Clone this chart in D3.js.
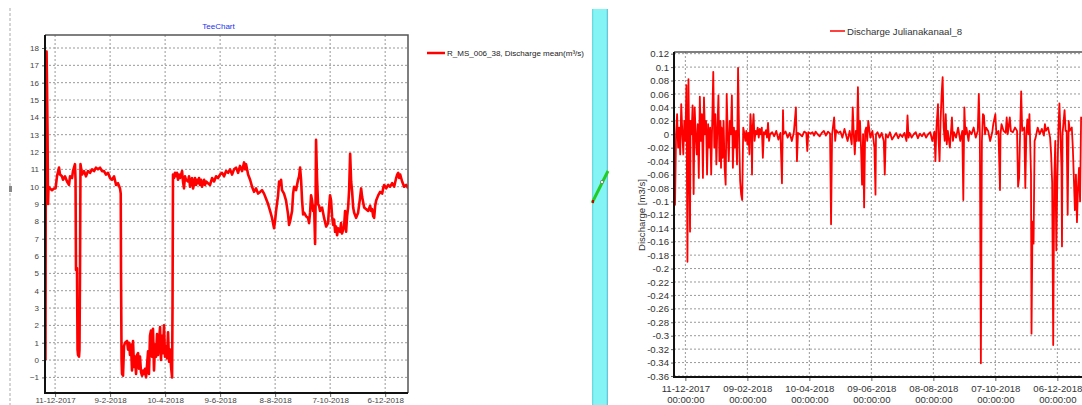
<!DOCTYPE html>
<html>
<head>
<meta charset="utf-8">
<script src="https://cdn.jsdelivr.net/npm/d3@7"></script>
<style>
  body { margin: 0; background: #fff; }
  svg { display: block; font-family: "Liberation Sans", Arial, sans-serif; }
</style>
</head>
<body>
<svg id="chart" width="1082" height="405"></svg>
<script>
// both series start 30-11-2017, day offsets from there
const startDate = new Date(Date.UTC(2017, 10, 30));
const endDate = new Date(Date.UTC(2019, 0, 1));

const leftTitle = "TeeChart";
const leftLegend = "R_MS_006_38, Discharge mean(m³/s)";
const rightLegend = "Discharge Julianakanaal_8";
const rightAxisTitle = "Discharge [m3/s]";

const xTickDates = ["2017-12-11", "2018-02-09", "2018-04-10", "2018-06-09", "2018-08-08", "2018-10-07", "2018-12-06"];
const leftYTicks = [-1, 0, 1, 2, 3, 4, 5, 6, 7, 8, 9, 10, 11, 12, 13, 14, 15, 16, 17, 18];
const rightYTicks = [0.12, 0.1, 0.08, 0.06, 0.04, 0.02, 0, -0.02, -0.04, -0.06, -0.08, -0.1, -0.12, -0.14, -0.16,
  -0.18, -0.2, -0.22, -0.24, -0.26, -0.28, -0.3, -0.32, -0.34, -0.36];

// [day offset, m3/s]
const leftSeries = [
  [0.5, 0], [1.1, 17.8], [1.7, 17.8], [2.2, 15.8], [2.8, 12.9], [3.3, 9.0], [3.8, 10.0], [5.5, 9.9], [7.6, 9.8], [9.8, 9.9],
  [11.5, 9.9], [13.1, 10.6], [15.3, 11.1], [16.4, 10.7], [18.5, 10.6], [19.6, 10.4], [21.8, 10.6], [24.0, 10.3], [26.2, 10.1], [27.3, 10.6],
  [29.5, 10.5], [30.5, 10.9], [32.7, 11.3], [33.3, 10.4], [33.8, 5.2], [34.9, 5.3], [35.5, 0.6], [36.0, 0.3], [37.1, 0.2], [37.6, 0.6],
  [38.2, 5.2], [38.7, 11.3], [40.4, 10.7], [42.5, 10.9], [44.7, 10.6], [46.9, 10.9], [49.1, 10.8], [51.3, 11.0], [53.5, 10.9], [55.6, 11.1],
  [57.8, 11.0], [60.0, 11.1], [62.2, 10.9], [64.4, 10.9], [66.5, 10.7], [68.7, 10.8], [70.9, 10.5], [73.1, 10.4], [75.3, 10.6], [77.5, 10.1],
  [79.6, 10.2], [81.8, 9.9], [82.6, 9.6], [82.9, 5.2], [83.5, 0.0], [84.0, -0.8], [85.1, -0.9], [86.2, 0.8], [87.3, 1.0], [89.5, 1.1],
  [90.6, 0.6], [91.6, 1.0], [92.7, 0.3], [93.8, 0.9], [94.9, -0.6], [96.0, 1.1], [97.1, -0.4], [98.2, 0.2], [99.3, -0.8], [100.4, 0.3],
  [101.5, 0.4], [102.5, -0.5], [103.6, 0.2], [104.7, -0.7], [105.8, -0.9], [106.9, -0.6], [108.0, -0.8], [109.1, -0.5], [110.2, -1.0], [111.3, -0.3],
  [112.4, 0.5], [113.4, -0.8], [114.5, 1.4], [115.6, 1.7], [116.7, 0.2], [117.8, 1.8], [118.9, -0.6], [120.0, 0.9], [121.1, 0.2], [122.2, 1.5],
  [123.3, 0.3], [124.4, 1.1], [125.5, 1.9], [126.5, 0.0], [127.6, 1.4], [128.7, 0.4], [129.8, 2.0], [130.9, 0.2], [132.0, 0.8], [133.1, 0.1],
  [134.2, 1.6], [135.3, -0.1], [136.4, 0.6], [137.5, -0.4], [138.6, -1.0], [139.1, 3.2], [139.6, 10.7], [140.7, 10.5], [141.8, 10.8], [142.9, 10.6],
  [144.0, 10.8], [145.1, 10.4], [146.2, 10.7], [147.3, 10.5], [149.5, 10.9], [150.5, 10.3], [151.6, 9.9], [152.7, 10.6], [153.8, 10.4], [156.0, 10.3],
  [157.1, 10.6], [158.2, 10.0], [159.3, 10.4], [160.4, 10.5], [161.5, 9.9], [162.6, 10.2], [163.6, 10.5], [164.7, 10.1], [165.8, 10.4], [166.9, 10.2],
  [168.0, 10.5], [169.1, 10.1], [170.2, 10.4], [171.3, 10.0], [173.5, 10.4], [174.6, 10.1], [175.7, 10.3], [177.8, 10.2], [180.0, 10.1], [182.2, 10.5],
  [184.4, 10.3], [186.6, 10.6], [188.7, 10.5], [190.9, 10.7], [193.1, 10.8], [195.3, 10.6], [197.5, 10.9], [199.7, 10.8], [201.8, 11.0], [204.0, 10.7],
  [206.2, 11.0], [208.4, 11.1], [210.6, 10.8], [212.7, 11.2], [214.9, 10.9], [217.1, 11.4], [218.2, 11.0], [219.3, 11.3], [221.5, 10.7], [223.7, 10.4],
  [225.8, 10.0], [228.0, 9.7], [230.2, 9.9], [232.4, 9.6], [234.6, 9.7], [236.7, 9.8], [238.9, 9.6], [241.1, 9.3], [243.3, 9.0], [245.5, 8.6],
  [247.6, 8.2], [249.8, 7.6], [250.9, 8.0], [252.0, 8.6], [254.2, 9.5], [255.3, 10.3], [256.4, 10.1], [257.5, 10.4], [258.5, 9.8], [260.7, 9.6],
  [262.9, 9.2], [265.1, 8.4], [266.2, 7.8], [267.3, 8.0], [269.5, 8.6], [270.6, 9.6], [271.7, 10.0], [273.8, 9.8], [276.0, 10.4], [277.1, 10.6],
  [278.2, 11.1], [279.3, 10.4], [280.4, 9.2], [281.5, 8.4], [282.6, 8.5], [284.7, 8.3], [286.9, 8.2], [288.0, 7.9], [289.1, 8.5], [290.2, 9.5],
  [291.3, 9.2], [292.4, 8.6], [293.5, 8.9], [294.6, 6.7], [295.1, 9.0], [295.6, 12.7], [296.7, 10.5], [297.8, 9.0], [298.9, 8.9], [300.0, 8.6],
  [302.2, 8.8], [304.4, 8.2], [306.6, 7.7], [308.7, 7.9], [309.8, 8.8], [310.9, 9.5], [312.0, 9.2], [313.1, 8.3], [314.2, 7.8], [315.3, 8.1],
  [316.4, 7.4], [317.5, 7.7], [318.6, 7.2], [319.7, 7.6], [321.8, 7.4], [322.9, 7.9], [324.0, 7.3], [326.2, 7.7], [327.3, 8.6], [328.4, 7.4],
  [329.5, 8.3], [330.6, 8.8], [331.7, 9.8], [332.8, 11.9], [333.9, 10.3], [335.0, 9.7], [336.1, 8.8], [337.2, 8.5], [339.3, 8.2], [341.5, 8.5],
  [343.7, 9.4], [344.8, 9.9], [345.9, 9.4], [348.1, 8.8], [350.3, 8.7], [352.5, 8.6], [354.6, 8.9], [355.7, 8.6], [356.8, 8.7], [357.9, 8.3],
  [359.0, 8.2], [360.1, 8.9], [361.2, 9.2], [363.4, 9.5], [365.5, 9.7], [367.7, 9.6], [368.8, 9.9], [369.9, 10.1], [372.1, 9.9], [374.3, 10.1],
  [376.4, 10.0], [378.6, 10.2], [380.8, 10.0], [383.0, 10.5], [384.1, 10.7], [385.2, 10.8], [386.3, 10.5], [387.4, 10.7], [389.5, 10.3], [391.7, 10.0],
  [393.9, 10.1], [396.1, 9.9]
];

const rightSeries = [
  [0, -0.005], [1, -0.105], [2, 0.0], [3, 0.03], [4, -0.02], [5, 0.01], [6, -0.03], [7, 0.045], [8, 0.005], [9, -0.03],
  [10, 0.02], [11, -0.01], [12, 0.073], [13, -0.19], [14, 0.082], [14.5, 0.01], [15.5, -0.145], [16, 0.02], [17, 0.0], [18, 0.043],
  [19, -0.089], [20, 0.04], [21, 0.0], [22, -0.03], [23, 0.015], [24, -0.065], [25, 0.056], [26, -0.01], [27, 0.03], [28, -0.065],
  [29, 0.055], [30, 0.0], [31, 0.02], [32, -0.06], [33, 0.015], [34, -0.02], [35, 0.01], [36, -0.06], [37, 0.02], [38, 0.093],
  [39, -0.02], [40, 0.03], [41, -0.045], [42, 0.01], [43, 0.058], [44, -0.04], [45, 0.02], [45.5, -0.05], [46, 0.01], [47, -0.035],
  [48, 0.02], [49, -0.05], [50, -0.075], [51, 0.06], [52, 0.0], [53, -0.04], [54, 0.02], [55, 0.0], [56, 0.058], [57, -0.05],
  [58, 0.01], [59, -0.02], [60, 0.005], [61, -0.045], [62, 0.099], [63, 0.0], [64, -0.07], [65, -0.09], [66, -0.098], [67, 0.01],
  [68, 0.002], [69, -0.01], [70, 0.005], [71, -0.015], [72, 0.002], [73, -0.03], [74, 0.03], [75, 0.0], [75.5, -0.06], [76, 0.005],
  [77, 0.03], [78, -0.01], [79, 0.005], [80, 0.0], [81, 0.01], [82, -0.005], [83, 0.008], [84, 0.0], [85, 0.01], [86, -0.035],
  [87, 0.003], [88, 0.0], [89, 0.006], [90, -0.005], [91, 0.017], [92, -0.01], [93, 0.0], [95, 0.003], [97, -0.003], [99, 0.005],
  [101, -0.008], [103, 0.002], [104.5, -0.073], [105.5, 0.036], [106, 0.0], [108, 0.004], [110, -0.005], [112, 0.002], [114, -0.01], [116, 0.003],
  [118, 0.04], [119, -0.04], [120, 0.002], [122, 0.0], [124, -0.003], [126, 0.004], [128, 0.002], [129, -0.025], [130, 0.003], [132, 0.001],
  [134, 0.003], [135.5, -0.002], [137, 0.004], [139, 0.0], [141, -0.003], [143, 0.002], [145, 0.005], [147, -0.002], [149, 0.004], [151, 0.001],
  [152, -0.134], [153, 0.0], [155, 0.025], [156, -0.01], [157, 0.006], [159, 0.002], [161, 0.004], [163, -0.005], [165, 0.008], [166, 0.002],
  [168, -0.01], [170, 0.005], [172, -0.015], [173, 0.04], [174, 0.0], [175, -0.03], [176, 0.005], [177, -0.01], [178, 0.07], [179, -0.01],
  [180, 0.02], [181, -0.02], [182, -0.075], [183, 0.0], [184, -0.109], [185, 0.005], [186, 0.01], [187, -0.01], [188, 0.02], [190, -0.005],
  [192, 0.005], [194, -0.02], [195, -0.09], [195.5, 0.0], [197, 0.003], [199, -0.005], [201, 0.002], [203, -0.01], [204, -0.06], [205, 0.0],
  [207, -0.005], [209, 0.003], [211, -0.008], [213, -0.003], [215, 0.002], [217, -0.006], [219, 0.0], [221, -0.004], [223, 0.002], [225, -0.01],
  [226, 0.028], [227, -0.005], [228, 0.002], [230, -0.005], [232, 0.0], [234, 0.003], [236, -0.006], [238, 0.001], [240, -0.003], [242, 0.002],
  [244, -0.005], [246, 0.0], [248, 0.003], [250, -0.01], [252, 0.004], [253, -0.04], [254, 0.01], [255.5, 0.045], [256, -0.005], [257, -0.04],
  [258, 0.02], [259, 0.06], [260, 0.085], [261, 0.01], [262, -0.01], [263, 0.03], [264, -0.015], [265, 0.005], [267, -0.02], [269, 0.025],
  [270, -0.01], [271, 0.003], [273, -0.005], [275, 0.01], [277, -0.01], [279, 0.005], [280, -0.098], [281, 0.04], [282, 0.0], [283, 0.01],
  [285, -0.01], [286, 0.005], [288, 0.0], [290, 0.01], [292, -0.005], [294, 0.005], [295, 0.06], [296, 0.0], [297, -0.341], [298, -0.01],
  [299, 0.03], [300, 0.028], [301, 0.0], [302, 0.01], [304, 0.005], [306, -0.01], [308, 0.003], [309, 0.015], [311, 0.03], [312, 0.0],
  [314, 0.005], [315.5, -0.083], [316, 0.0], [317, 0.015], [319, 0.005], [321, 0.002], [322, 0.025], [323, 0.0], [325, 0.025], [326, 0.005],
  [328, 0.003], [330, 0.01], [332, 0.005], [333, -0.078], [334, -0.065], [335, 0.005], [336, 0.064], [337, 0.005], [339, 0.01], [340, -0.08],
  [341, 0.0], [342, 0.022], [343, 0.0], [344, 0.03], [345, -0.03], [345.5, -0.06], [346, -0.297], [347, -0.13], [348, -0.163], [349, -0.01],
  [350, -0.005], [352, 0.01], [354, 0.0], [356, 0.008], [358, -0.002], [359, 0.015], [360, 0.005], [362, 0.01], [364, -0.005], [365, -0.03],
  [366, -0.073], [367, -0.314], [368, -0.07], [369, -0.01], [370, -0.173], [371, -0.07], [372, 0.005], [373, 0.046], [374, 0.0], [375, -0.05],
  [375.5, -0.167], [376, 0.0], [378, 0.036], [379, 0.005], [380, 0.005], [381, -0.12], [382, 0.02], [383, 0.005], [385, 0.01], [386, -0.02],
  [388, -0.113], [389, -0.06], [390, -0.131], [391, -0.08], [392, -0.05], [393, -0.1], [394, 0.025], [395, 0.02]
];

const svg = d3.select("#chart");
const dayMs = 864e5;
const toDate = d => new Date(startDate.getTime() + d * dayMs);
const tickDates = xTickDates.map(s => new Date(s + "T00:00:00Z"));

svg.append("rect").attr("width", 1082).attr("height", 405).attr("fill", "#fff");

// splitter line on far left
svg.append("line")
  .attr("x1", 10).attr("x2", 10).attr("y1", 8).attr("y2", 405)
  .attr("stroke", "#aaa").attr("stroke-dasharray", "3,2");
svg.append("rect").attr("x", 9).attr("y", 186).attr("width", 3).attr("height", 6).attr("fill", "#888");

// ---------- left chart ----------
const L = { left: 45, right: 408, top: 35, bottom: 393 };
const lx = d3.scaleUtc().domain([startDate, endDate]).range([45, 409]);
const ly = d3.scaleLinear().domain([-1.9, 18.75]).range([L.bottom, L.top]);

const lg = svg.append("g");

lg.append("g").selectAll("line").data(leftYTicks).join("line")
  .attr("x1", L.left).attr("x2", L.right)
  .attr("y1", d => ly(d)).attr("y2", d => ly(d))
  .attr("stroke", "#999").attr("stroke-dasharray", "2,2");
lg.append("g").selectAll("line").data(tickDates).join("line")
  .attr("x1", d => lx(d)).attr("x2", d => lx(d))
  .attr("y1", L.top).attr("y2", L.bottom)
  .attr("stroke", "#999").attr("stroke-dasharray", "2,2");

lg.append("g")
  .attr("transform", `translate(${L.left},0)`)
  .call(d3.axisLeft(ly).tickValues(leftYTicks).tickSize(3).tickPadding(3).tickFormat(d3.format("d")))
  .call(g => g.select(".domain").remove())
  .call(g => g.selectAll("line").attr("stroke", "#666"))
  .call(g => g.selectAll("text").attr("font-size", 8).attr("fill", "#444").attr("font-family", null));

// labels sit right at the bottom edge of the window
lg.append("g")
  .attr("transform", `translate(0,${L.bottom})`)
  .call(d3.axisBottom(lx).tickValues(tickDates).tickSize(4).tickPadding(0.3).tickFormat(d3.utcFormat("%-d-%-m-%Y")))
  .call(g => g.select(".domain").remove())
  .call(g => g.selectAll("line").attr("stroke", "#666"))
  .call(g => g.selectAll("text").attr("font-size", 8).attr("fill", "#444").attr("font-family", null));

svg.append("clipPath").attr("id", "clipL").append("rect")
  .attr("x", L.left).attr("y", L.top).attr("width", L.right - L.left).attr("height", L.bottom - L.top);

lg.append("path")
  .datum(leftSeries)
  .attr("clip-path", "url(#clipL)")
  .attr("fill", "none")
  .attr("stroke", "#ff0000")
  .attr("stroke-width", 2.6)
  .attr("stroke-linejoin", "round")
  .attr("d", d3.line().x(d => lx(toDate(d[0]))).y(d => ly(d[1])));

// frame
lg.append("path")
  .attr("d", `M${L.left},${L.top}H${L.right}V${L.bottom}`)
  .attr("fill", "none").attr("stroke", "#555").attr("stroke-width", 1.5);
lg.append("path")
  .attr("d", `M${L.left},${L.top}V${L.bottom}H${L.right}`)
  .attr("fill", "none").attr("stroke", "#111").attr("stroke-width", 2);

lg.append("text")
  .attr("x", (L.left + L.right) / 2 - 8).attr("y", 29)
  .attr("text-anchor", "middle").attr("font-size", 8).attr("fill", "#2233ee")
  .text(leftTitle);

lg.append("line").attr("x1", 427).attr("x2", 445).attr("y1", 53).attr("y2", 53)
  .attr("stroke", "#ff0000").attr("stroke-width", 2.5);
lg.append("text").attr("x", 447).attr("y", 56).attr("font-size", 8).attr("fill", "#222")
  .text(leftLegend);

// ---------- splitter bar ----------
const grad = svg.append("defs").append("linearGradient").attr("id", "cyan");
grad.append("stop").attr("offset", "0%").attr("stop-color", "#5fd3dc");
grad.append("stop").attr("offset", "12%").attr("stop-color", "#84f4f4");
grad.append("stop").attr("offset", "88%").attr("stop-color", "#84f4f4");
grad.append("stop").attr("offset", "100%").attr("stop-color", "#5ab8d0");
svg.append("rect").attr("x", 592).attr("y", 9).attr("width", 16).attr("height", 396).attr("fill", "url(#cyan)");
svg.append("line").attr("x1", 592).attr("y1", 203).attr("x2", 608).attr("y2", 171)
  .attr("stroke", "#22cc22").attr("stroke-width", 3);
svg.append("circle").attr("cx", 602).attr("cy", 182).attr("r", 1.6)
  .attr("fill", "#fff").attr("stroke", "#555").attr("stroke-width", 0.6);
svg.append("rect").attr("x", 592).attr("y", 200).attr("width", 2).attr("height", 3).attr("fill", "#cc0000");

// ---------- right chart ----------
const R = { left: 674, right: 1084, top: 52, bottom: 377 };
const rx = d3.scaleUtc().domain([startDate, endDate]).range([674, 1084.2]);
const ry = d3.scaleLinear().domain([-0.3615, 0.1225]).range([R.bottom, R.top]);

const rg = svg.append("g");

rg.append("g").selectAll("line").data(rightYTicks).join("line")
  .attr("x1", R.left).attr("x2", R.right)
  .attr("y1", d => ry(d)).attr("y2", d => ry(d))
  .attr("stroke", "#999").attr("stroke-dasharray", "2,2");
rg.append("g").selectAll("line").data(tickDates).join("line")
  .attr("x1", d => rx(d)).attr("x2", d => rx(d))
  .attr("y1", R.top).attr("y2", R.bottom)
  .attr("stroke", "#999").attr("stroke-dasharray", "2,2");

rg.append("g")
  .attr("transform", `translate(${R.left},0)`)
  .call(d3.axisLeft(ry).tickValues(rightYTicks).tickSize(3).tickPadding(2).tickFormat(d => String(+d.toFixed(2))))
  .call(g => g.select(".domain").remove())
  .call(g => g.selectAll("line").attr("stroke", "#666"))
  .call(g => g.selectAll("text").attr("font-size", 9.6).attr("fill", "#333").attr("font-family", null));

rg.append("g")
  .attr("transform", `translate(0,${R.bottom})`)
  .call(d3.axisBottom(rx).tickValues(tickDates).tickSize(4).tickPadding(4).tickFormat(d3.utcFormat("%d-%m-%Y")))
  .call(g => g.select(".domain").remove())
  .call(g => g.selectAll("line").attr("stroke", "#666"))
  .call(g => g.selectAll("text").attr("font-size", 9.6).attr("fill", "#333").attr("font-family", null))
  .call(g => g.selectAll(".tick").append("text")
    .attr("y", 19).attr("dy", "0.71em").attr("font-size", 9.6).attr("fill", "#333")
    .text(d3.utcFormat("%H:%M:%S")));

svg.append("clipPath").attr("id", "clipR").append("rect")
  .attr("x", R.left).attr("y", R.top).attr("width", R.right - R.left).attr("height", R.bottom - R.top);

rg.append("path")
  .datum(rightSeries)
  .attr("clip-path", "url(#clipR)")
  .attr("fill", "none")
  .attr("stroke", "#ff0000")
  .attr("stroke-width", 1.8)
  .attr("stroke-linejoin", "round")
  .attr("d", d3.line().x(d => rx(toDate(d[0]))).y(d => ry(d[1])));

rg.append("path")
  .attr("d", `M${R.left},${R.top}H${R.right}`)
  .attr("fill", "none").attr("stroke", "#555").attr("stroke-width", 1.5);
rg.append("path")
  .attr("d", `M${R.left},${R.top}V${R.bottom}H${R.right}`)
  .attr("fill", "none").attr("stroke", "#111").attr("stroke-width", 2);

rg.append("text")
  .attr("transform", "translate(645,215) rotate(-90)")
  .attr("text-anchor", "middle").attr("font-size", 9.6).attr("fill", "#333")
  .text(rightAxisTitle);

rg.append("line").attr("x1", 830).attr("x2", 845).attr("y1", 31).attr("y2", 31)
  .attr("stroke", "#ff0000").attr("stroke-width", 1.5);
rg.append("text").attr("x", 847).attr("y", 35).attr("font-size", 9.6).attr("fill", "#333")
  .text(rightLegend);
</script>
</body>
</html>
